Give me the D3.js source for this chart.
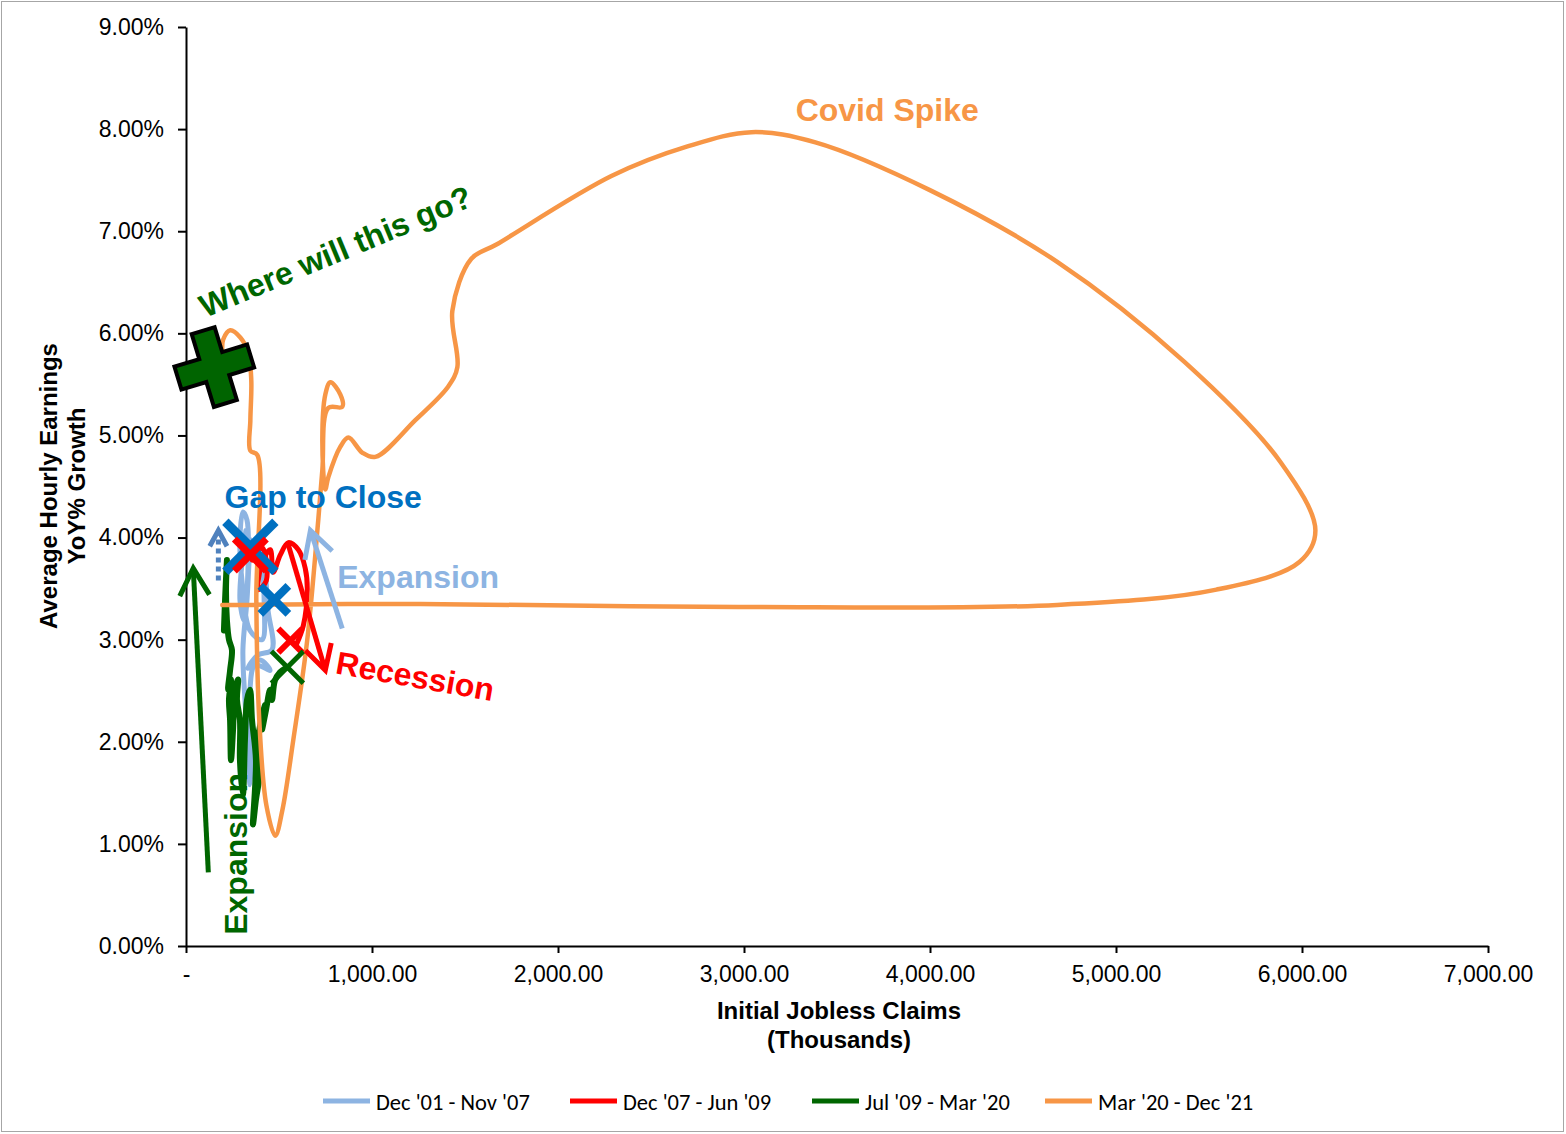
<!DOCTYPE html>
<html><head><meta charset="utf-8">
<script src="https://cdn.jsdelivr.net/npm/d3@7"></script>
<style>body{margin:0;background:#fff}svg{display:block}</style>
</head><body>
<svg id="chart" width="1566" height="1134"></svg>
<script>
// ---------- data ----------
const xTickValues = [0, 1000, 2000, 3000, 4000, 5000, 6000, 7000];
const yTickValues = [0, 1, 2, 3, 4, 5, 6, 7, 8, 9];
const seriesNames = ["Dec '01 - Nov '07", "Dec '07 - Jun '09", "Jul '09 - Mar '20", "Mar '20 - Dec '21"];

// Initial jobless claims (thousands) / AHE YoY growth (%)
const lightBlueClaims = [344, 328, 306, 317, 333, 344, 355, 344, 371, 452, 398, 333, 387, 462, 441, 425, 409, 420, 409, 344, 301, 290, 306, 328, 333, 312, 290, 322];
const lightBlueAhe    = [3.98, 3.39, 2.90, 2.41, 1.92, 1.58, 2.02, 2.51, 2.75, 2.70, 2.80, 2.72, 2.85, 2.90, 3.29, 3.68, 3.83, 3.39, 3.00, 3.09, 3.58, 3.98, 4.25, 4.17, 3.68, 3.19, 3.39, 4.07];

const redClaims = [356, 410, 432, 389, 410, 453, 469, 507, 550, 604, 641, 652, 631, 593];
const redAhe    = [3.78, 3.90, 3.58, 3.49, 3.76, 3.88, 3.66, 3.83, 3.95, 3.88, 3.70, 3.49, 3.14, 2.95];

const greenClaims = [543, 505, 478, 462, 452, 430, 409, 425, 387, 398, 376, 360, 376, 355, 344, 328, 317, 306, 290, 290, 274, 280, 263, 253, 242, 237, 231, 242, 226, 237, 247, 231, 220, 215, 220, 210, 204];
const greenAhe    = [2.73, 2.68, 2.60, 2.41, 2.51, 2.31, 2.12, 2.36, 2.02, 1.72, 1.43, 1.19, 1.82, 2.21, 2.51, 2.41, 2.02, 1.48, 1.82, 2.21, 2.41, 2.61, 2.51, 2.12, 1.82, 2.21, 2.41, 2.61, 2.51, 2.70, 2.90, 3.00, 3.19, 3.49, 3.78, 3.39, 3.09];

const orangeClaims = [195, 1260, 2970, 4684, 5540, 5986, 6072, 5884, 5368, 4684, 4002, 3384, 3040, 2696, 2287, 1669, 1534, 1432, 1459, 1410, 1233, 1018, 949, 873, 830, 765, 749, 733, 749, 776, 830, 840, 765, 733, 711, 652, 577, 518, 480, 432, 394, 378, 383, 346, 346, 351, 335, 292, 238, 200, 195];
const orangeAhe    = [3.34, 3.35, 3.32, 3.34, 3.49, 3.76, 4.07, 4.74, 5.72, 6.70, 7.40, 7.87, 7.97, 7.83, 7.54, 6.87, 6.73, 6.22, 5.67, 5.48, 5.15, 4.79, 4.83, 4.98, 4.89, 4.59, 4.47, 4.96, 5.40, 5.52, 5.40, 5.28, 5.27, 4.66, 4.17, 3.00, 2.02, 1.33, 1.08, 1.38, 2.21, 3.39, 4.81, 4.85, 5.15, 5.54, 5.81, 5.96, 6.03, 5.94, 5.84];

// ---------- setup ----------
const W = 1566, H = 1134;
const FONT = "'Liberation Sans', Arial, sans-serif";
const svg = d3.select("#chart");
svg.append("rect").attr("x", 1.5).attr("y", 1.5).attr("width", W - 4).attr("height", H - 4)
  .attr("fill", "#fff").attr("stroke", "#a6a6a6").attr("stroke-width", 1);

const x = d3.scaleLinear().domain([0, 7000]).range([186, 1488]);
const y = d3.scaleLinear().domain([0, 9]).range([946, 27]);

const colors = {lb: "#8DB4E2", red: "#FF0000", green: "#006600", orange: "#F79646", blue: "#0070C0", steel: "#4F81BD"};

// axes
const yAxis = d3.axisLeft(y).tickValues(yTickValues).tickSize(8).tickSizeOuter(0).tickPadding(14)
  .tickFormat(d => d.toFixed(2) + "%");
const xAxis = d3.axisBottom(x).tickValues(xTickValues).tickSize(7).tickSizeOuter(0).tickPadding(13)
  .tickFormat(d => d === 0 ? "-" : d3.format(",.2f")(d));

const gy = svg.append("g").attr("transform", `translate(${x(0)},0)`).call(yAxis);
const gx = svg.append("g").attr("transform", `translate(0,${y(0)})`).call(xAxis);
[gx, gy].forEach(g => {
  g.select(".domain").attr("stroke", "#000").attr("stroke-width", 2);
  g.selectAll(".tick line").attr("stroke", "#000").attr("stroke-width", 2);
  g.selectAll(".tick text").attr("fill", "#000").style("font-family", FONT).style("font-size", "23px");
});

// axis titles
const yt = svg.append("text").attr("transform", "translate(57,486) rotate(-90)")
  .attr("text-anchor", "middle").style("font-family", FONT).style("font-weight", "bold").style("font-size", "24px");
yt.append("tspan").attr("x", 0).attr("y", 0).text("Average Hourly Earnings");
yt.append("tspan").attr("x", 0).attr("y", 28).text("YoY% Growth");
const xt = svg.append("text").attr("text-anchor", "middle").style("font-family", FONT)
  .style("font-weight", "bold").style("font-size", "24px");
xt.append("tspan").attr("x", 839).attr("y", 1019).text("Initial Jobless Claims");
xt.append("tspan").attr("x", 839).attr("y", 1048).text("(Thousands)");

// ---------- series ----------
const line = d3.line().x(d => x(d[0])).y(d => y(d[1])).curve(d3.curveCatmullRom.alpha(0.5));
const zip = (a, b) => a.map((v, i) => [v, b[i]]);
const plot = svg.append("g");
function drawSeries(cl, ah, color, w) {
  plot.append("path").datum(zip(cl, ah)).attr("d", line).attr("fill", "none")
    .attr("stroke", color).attr("stroke-width", w).attr("stroke-linejoin", "round").attr("stroke-linecap", "round");
}

// X markers
function xMark(c, a, half, color, w) {
  const cx = x(c), cy = y(a);
  const g = svg.append("g").attr("stroke", color).attr("stroke-width", w);
  g.append("line").attr("x1", cx - half).attr("y1", cy - half).attr("x2", cx + half).attr("y2", cy + half);
  g.append("line").attr("x1", cx + half).attr("y1", cy - half).attr("x2", cx - half).attr("y2", cy + half);
}
// arrow helper (open chevron head)
function arrow(c0, a0, c1, a1, color, w, head, dash) {
  const x0 = x(c0), y0 = y(a0), x1 = x(c1), y1 = y(a1);
  const ang = Math.atan2(y1 - y0, x1 - x0);
  const g = svg.append("g").attr("stroke", color).attr("stroke-width", w).attr("fill", "none");
  const shaft = g.append("line").attr("x1", x0).attr("y1", y0)
    .attr("x2", x1 - Math.cos(ang) * 3).attr("y2", y1 - Math.sin(ang) * 3);
  if (dash) shaft.attr("stroke-dasharray", dash);
  const spread = 0.5;
  const p = [ang + Math.PI - spread, ang + Math.PI + spread].map(t => [x1 + Math.cos(t) * head, y1 + Math.sin(t) * head]);
  g.append("path").attr("d", `M${p[0][0]},${p[0][1]}L${x1},${y1}L${p[1][0]},${p[1][1]}`)
    .attr("stroke-linejoin", "miter");
}

drawSeries(lightBlueClaims, lightBlueAhe, colors.lb, 5);
drawSeries(redClaims, redAhe, colors.red, 5);
drawSeries(greenClaims, greenAhe, colors.green, 6);

xMark(346, 3.91, 25, colors.blue, 9);
xMark(475, 3.39, 14, colors.blue, 8);
xMark(346, 3.83, 16, colors.red, 7);
xMark(561, 2.99, 12, colors.red, 6);
xMark(545, 2.73, 16, colors.green, 5);

drawSeries(orangeClaims, orangeAhe, colors.orange, 4.5);

// arrows
arrow(120, 0.72, 39, 3.70, colors.green, 5, 31);
arrow(840, 3.11, 669, 4.07, colors.lb, 5, 30);
arrow(550, 3.93, 749, 2.70, colors.red, 5, 28);
arrow(174, 3.58, 174, 4.07, colors.steel, 5, 18, "5,4");

// green plus
(function () {
  const cx = x(152), cy = y(5.67), R = 38, h = 12;
  const pts = [[-h,-R],[h,-R],[h,-h],[R,-h],[R,h],[h,h],[h,R],[-h,R],[-h,h],[-R,h],[-R,-h],[-h,-h]];
  svg.append("path").attr("d", "M" + pts.map(p => p.join(",")).join("L") + "Z")
    .attr("transform", `translate(${cx},${cy}) rotate(-17)`)
    .attr("fill", "#006400").attr("stroke", "#000").attr("stroke-width", 4).attr("stroke-linejoin", "miter");
})();

// annotations
function label(txt, c, a, color, rot, anchor, size) {
  svg.append("text").attr("transform", `translate(${x(c)},${y(a)}) rotate(${rot})`)
    .attr("text-anchor", anchor || "start").attr("fill", color)
    .style("font-family", FONT).style("font-weight", "bold").style("font-size", (size || 32) + "px").text(txt);
}
label("Covid Spike", 3770, 8.08, colors.orange, 0, "middle");
label("Where will this go?", 104, 6.15, colors.green, -22.7);
label("Gap to Close", 207, 4.29, colors.blue, 0);
label("Expansion", 813, 3.51, colors.lb, 0);
label("Recession", 798, 2.67, colors.red, 10);
label("Expansion", 330, 0.11, colors.green, -90);

// legend
const legend = svg.append("g");
const legX = [323, 570, 812, 1045];
const legColors = [colors.lb, colors.red, colors.green, colors.orange];
seriesNames.forEach((n, i) => {
  legend.append("line").attr("x1", legX[i]).attr("x2", legX[i] + 47).attr("y1", 1101).attr("y2", 1101)
    .attr("stroke", legColors[i]).attr("stroke-width", 5);
  legend.append("text").attr("x", legX[i] + 53).attr("y", 1110).text(n)
    .style("font-family", "Carlito, Calibri, Lato, sans-serif").style("font-size", "22.5px").attr("fill", "#000");
});
</script>
</body></html>
